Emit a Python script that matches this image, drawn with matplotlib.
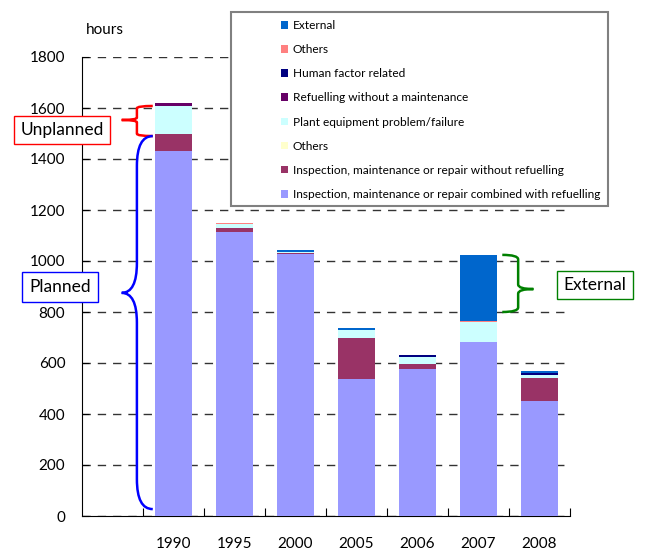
import matplotlib
matplotlib.use("Agg")
import matplotlib.pyplot as plt
from matplotlib.patches import Patch, Rectangle
from matplotlib.path import Path
from matplotlib.patches import PathPatch
import numpy as np

plt.rcParams['font.family'] = ['Lato', 'DejaVu Sans']

# Data (hours)
years = ['1990', '1995', '2000', '2005', '2006', '2007', '2008']
insp_refuel = [1430, 1113, 1027, 537, 576, 682, 451]
insp_no_refuel = [70, 17, 6, 161, 20, 0, 90]
others_planned = [0, 0, 0, 0, 0, 0, 0]
plant_failure = [108, 15, 4, 31, 29, 79, 12]
refuel_no_maint = [12, 0, 0, 0, 0, 0, 0]
human_factor = [0, 0, 0, 0, 8, 0, 7]
others_unplanned = [0, 4, 0, 0, 0, 4, 0]
external = [0, 0, 8, 8, 0, 259, 9]

# bottom -> top
series = [
    ("Inspection, maintenance or repair combined with refuelling", insp_refuel, "#9999FF"),
    ("Inspection, maintenance or repair without refuelling", insp_no_refuel, "#993366"),
    ("Others", others_planned, "#FFFFCC"),
    ("Plant equipment problem/failure", plant_failure, "#CCFFFF"),
    ("Refuelling without a maintenance", refuel_no_maint, "#660066"),
    ("Human factor related", human_factor, "#000080"),
    ("Others", others_unplanned, "#FF8080"),
    ("External", external, "#0066CC"),
]

fig = plt.figure(figsize=(6.5, 5.53), dpi=100)
ax = fig.add_axes([82/650, 1-516/553, 488/650, 459/553])

x = np.arange(1, len(years) + 1)
bottom = np.zeros(len(years))
for name, vals, col in series:
    v = np.array(vals, dtype=float)
    ax.bar(x, v, width=0.6, bottom=bottom, color=col, zorder=3)
    bottom += v

ax.set_xlim(-0.5, 7.5)
ax.set_ylim(0, 1800)
ax.set_yticks(range(0, 1801, 200))
ax.tick_params(axis='y', direction='in', length=5, pad=12, labelsize=11)
ax.yaxis.grid(True, color='#333333', linestyle=(0, (6, 5)), linewidth=1, zorder=1)
ax.set_axisbelow(True)

# category boundaries as ticks, labels at centres
ax.set_xticks(np.arange(0.5, 8, 1))
ax.set_xticklabels([])
ax.tick_params(axis='x', which='major', direction='in', length=6)
ax.set_xticks(x, minor=True)
ax.set_xticklabels(years, minor=True)
ax.tick_params(axis='x', which='minor', length=0, pad=15, labelsize=11)

ax.spines['top'].set_visible(False)
ax.spines['right'].set_visible(False)

fig.text(86/650, 1-30/553, "hours", fontsize=11, va='center', ha='left')

# legend frame + legend
fig.add_artist(Rectangle((231/650, 1-206/553), 377/650, 194/553, transform=fig.transFigure,
                         facecolor='white', edgecolor='#808080', linewidth=1.5, zorder=4))
handles = [Patch(facecolor=col, edgecolor='none') for name, vals, col in series][::-1]
labels = [name for name, vals, col in series][::-1]
fig.legend(handles, labels, loc='upper left', bbox_to_anchor=(281/650, 1-20/553),
           frameon=False, fontsize=8.6, handlelength=0.6, handleheight=0.6,
           handletextpad=0.4, labelspacing=1.1, borderpad=0, borderaxespad=0)


def brace(x_end, x_mid, x_tip, y_top, y_bot, y_tip, color):
    r = (y_top - y_bot) * 0.08
    verts = [(x_end, y_top), (x_mid, y_top), (x_mid, y_top - r),
             (x_mid, y_tip + r), (x_mid, y_tip), (x_tip, y_tip),
             (x_mid, y_tip), (x_mid, y_tip - r),
             (x_mid, y_bot + r), (x_mid, y_bot), (x_end, y_bot)]
    codes = [Path.MOVETO, Path.CURVE3, Path.CURVE3,
             Path.LINETO, Path.CURVE3, Path.CURVE3,
             Path.CURVE3, Path.CURVE3,
             Path.LINETO, Path.CURVE3, Path.CURVE3]
    ax.add_patch(PathPatch(Path(verts, codes), fill=False, edgecolor=color,
                           linewidth=1.8, clip_on=False, zorder=5))


brace(0.66, 0.40, 0.15, 1608, 1490, 1553, 'red')
brace(0.66, 0.40, 0.15, 1490, 27, 875, 'blue')
brace(6.39, 6.65, 6.90, 1024, 800, 890, 'green')

ax.text(62/650, 1-130/553, "Unplanned", transform=fig.transFigure, fontsize=12.5,
        ha='center', va='center',
        bbox=dict(boxstyle='square,pad=0.35', fc='white', ec='red', lw=1))
ax.text(60/650, 1-287/553, "Planned", transform=fig.transFigure, fontsize=12.5,
        ha='center', va='center',
        bbox=dict(boxstyle='square,pad=0.4', fc='white', ec='blue', lw=1))
ax.text(595/650, 1-285/553, "External", transform=fig.transFigure, fontsize=12.5,
        ha='center', va='center',
        bbox=dict(boxstyle='square,pad=0.35', fc='white', ec='green', lw=1))

fig.savefig("out.png", dpi=100)
